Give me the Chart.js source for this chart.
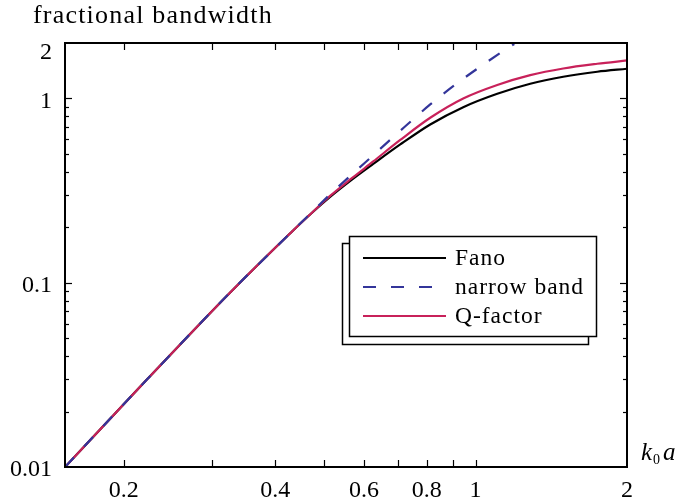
<!DOCTYPE html>
<html>
<head>
<meta charset="utf-8">
<script src="https://cdn.jsdelivr.net/npm/chart.js@4.4.0/dist/chart.umd.min.js"></script>
<style>
  body { margin: 0; background: #fff; }
  #wrap { width: 676px; height: 502px; }
</style>
</head>
<body>
<div id="wrap"><canvas id="chart" width="676" height="502"></canvas></div>
<script>
// values (k0 a -> fractional bandwidth)
const fano_k = [0.1528, 0.2225, 0.3254, 0.436, 0.4714, 0.514, 0.5688, 0.6262, 0.7086,
                0.8128, 0.9452, 1.1046, 1.2846, 1.4938, 1.7454, 2.0];
const fano_bw = [0.01, 0.0299, 0.0886, 0.1946, 0.2377, 0.2921, 0.3635, 0.4412, 0.5628,
                 0.7227, 0.8971, 1.0605, 1.2018, 1.3113, 1.3961, 1.4496];

const narrow_k = [0.1528, 0.2225, 0.3254, 0.436, 0.4714, 0.5188, 0.6036, 0.699,
                  0.8128, 0.9236, 1.0554, 1.1722, 1.194];
const narrow_bw = [0.01, 0.0299, 0.0886, 0.1946, 0.2398, 0.309, 0.4495, 0.6457,
                   0.9278, 1.2211, 1.5816, 1.915, 1.976];

const q_k = [0.1528, 0.2225, 0.3254, 0.436, 0.4714, 0.514, 0.5688, 0.6262, 0.7086,
             0.8128, 0.9452, 1.1046, 1.2846, 1.4938, 1.7454, 2.0];
const q_bw = [0.01, 0.0299, 0.0886, 0.1946, 0.2377, 0.2958, 0.3704, 0.4551, 0.5954,
              0.7858, 1.0, 1.1838, 1.3381, 1.4548, 1.5428, 1.6078];

const x_ticks = [0.2, 0.3, 0.4, 0.5, 0.6, 0.7, 0.8, 0.9, 1, 2];
const x_labels = [0.2, 0.4, 0.6, 0.8, 1, 2];
const y_ticks = [0.01, 0.02, 0.03, 0.04, 0.05, 0.06, 0.07, 0.08, 0.09,
                 0.1, 0.2, 0.3, 0.4, 0.5, 0.6, 0.7, 0.8, 0.9, 1, 2];
const y_labels = [0.01, 0.1, 1];
const y_top_label = 2;

const series_names = ["Fano", "narrow band", "Q-factor"];
const series_colors = ["#000000", "#33359a", "#c8215a"];

const serif = "'Liberation Serif', 'DejaVu Serif', serif";

function points(ks, bws) {
  return ks.map((k, i) => ({ x: k, y: bws[i] }));
}

function line(ctx, x1, y1, x2, y2) {
  ctx.beginPath();
  ctx.moveTo(x1, y1);
  ctx.lineTo(x2, y2);
  ctx.stroke();
}

const frame_plugin = {
  id: "frame",
  afterDraw(chart) {
    const ctx = chart.ctx;
    const a = chart.chartArea;
    const xs = chart.scales.x;
    const ys = chart.scales.y;
    ctx.save();
    ctx.strokeStyle = "#000";
    ctx.lineWidth = 1.2;
    // inward ticks on all four sides
    for (const v of x_ticks) {
      if (v >= 2) continue;
      const px = Math.round(xs.getPixelForValue(v)) + 0.5;
      line(ctx, px, a.bottom, px, a.bottom - 7);
      line(ctx, px, a.top, px, a.top + 7);
    }
    for (const v of y_ticks) {
      if (v <= 0.01 || v >= 2) continue;
      const len = v === 0.1 || v === 1 ? 7 : 4;
      const py = Math.round(ys.getPixelForValue(v)) + 0.5;
      line(ctx, a.left, py, a.left + len, py);
      line(ctx, a.right, py, a.right - len, py);
    }
    ctx.lineWidth = 2;
    ctx.strokeRect(a.left, a.top, a.right - a.left, a.bottom - a.top);

    ctx.fillStyle = "#000";
    // top y label sits a bit below the axis end, as in the reference
    ctx.font = "24px " + serif;
    ctx.textAlign = "right";
    ctx.textBaseline = "middle";
    ctx.fillText(String(y_top_label), a.left - 13, ys.getPixelForValue(y_top_label) + 10);

    // axis titles
    ctx.textBaseline = "alphabetic";
    ctx.textAlign = "left";
    ctx.font = "26px " + serif;
    ctx.letterSpacing = "1.2px";
    ctx.fillText("fractional bandwidth", 33, 23);
    ctx.letterSpacing = "0px";
    ctx.font = "italic 25px " + serif;
    ctx.fillText("k", 641, 460);
    ctx.font = "14px " + serif;
    ctx.fillText("0", 653, 464);
    ctx.font = "italic 25px " + serif;
    ctx.fillText("a", 663, 460);

    // legend with shadow box
    ctx.lineWidth = 1.5;
    ctx.strokeStyle = "#000";
    ctx.fillStyle = "#fff";
    ctx.fillRect(342, 243, 246, 101);
    ctx.strokeRect(342.5, 243.5, 246, 101);
    ctx.fillRect(349, 236, 247, 100);
    ctx.strokeRect(349.5, 236.5, 247, 100);
    const rows = [258, 287, 316];
    ctx.font = "23.5px " + serif;
    ctx.letterSpacing = "1px";
    series_names.forEach((name, i) => {
      ctx.strokeStyle = series_colors[i];
      ctx.lineWidth = 2;
      ctx.setLineDash(i === 1 ? [13, 15] : []);
      line(ctx, 363, rows[i], 446, rows[i]);
      ctx.setLineDash([]);
      ctx.fillStyle = "#000";
      ctx.fillText(name, 455, rows[i] + 7);
    });
    ctx.restore();
  },
};

function main() {
  Chart.defaults.font.family = serif;
  Chart.defaults.font.size = 24;
  Chart.defaults.color = "#000";

  const data = {
    datasets: [
      {
        label: series_names[0],
        data: points(fano_k, fano_bw),
        borderColor: series_colors[0],
        borderWidth: 2.2,
        order: 2,
      },
      {
        label: series_names[1],
        data: points(narrow_k, narrow_bw),
        borderColor: series_colors[1],
        borderWidth: 2.2,
        borderDash: [13, 15],
        order: 0,
      },
      {
        label: series_names[2],
        data: points(q_k, q_bw),
        borderColor: series_colors[2],
        borderWidth: 2.2,
        order: 1,
      },
    ],
  };

  const config = {
    type: "line",
    data: data,
    options: {
      responsive: false,
      animation: false,
      devicePixelRatio: 1,
      layout: { padding: { top: 43, right: 49, left: 0, bottom: 0 } },
      elements: {
        point: { radius: 0 },
        line: { cubicInterpolationMode: "monotone", fill: false },
      },
      plugins: { legend: { display: false }, tooltip: { enabled: false } },
      scales: {
        x: {
          type: "logarithmic",
          min: 0.1528,
          max: 2,
          grid: { display: false, drawTicks: false },
          border: { display: false },
          afterBuildTicks: (scale) => {
            scale.ticks = x_ticks.map((v) => ({ value: v }));
          },
          afterFit: (scale) => {
            scale.height = 35;
          },
          ticks: {
            autoSkip: false,
            maxRotation: 0,
            padding: 9,
            callback: (v) => (x_labels.includes(v) ? String(v) : ""),
          },
        },
        y: {
          type: "logarithmic",
          min: 0.01,
          max: 2,
          grid: { display: false, drawTicks: false },
          border: { display: false },
          afterBuildTicks: (scale) => {
            scale.ticks = y_ticks.map((v) => ({ value: v }));
          },
          afterFit: (scale) => {
            scale.width = 65;
          },
          ticks: {
            autoSkip: false,
            padding: 13,
            labelOffset: 3,
            callback: (v) => (y_labels.includes(v) ? String(v) : ""),
          },
        },
      },
    },
    plugins: [frame_plugin],
  };

  new Chart(document.getElementById("chart"), config);
}

document.addEventListener("DOMContentLoaded", main, false);
</script>
</body>
</html>
